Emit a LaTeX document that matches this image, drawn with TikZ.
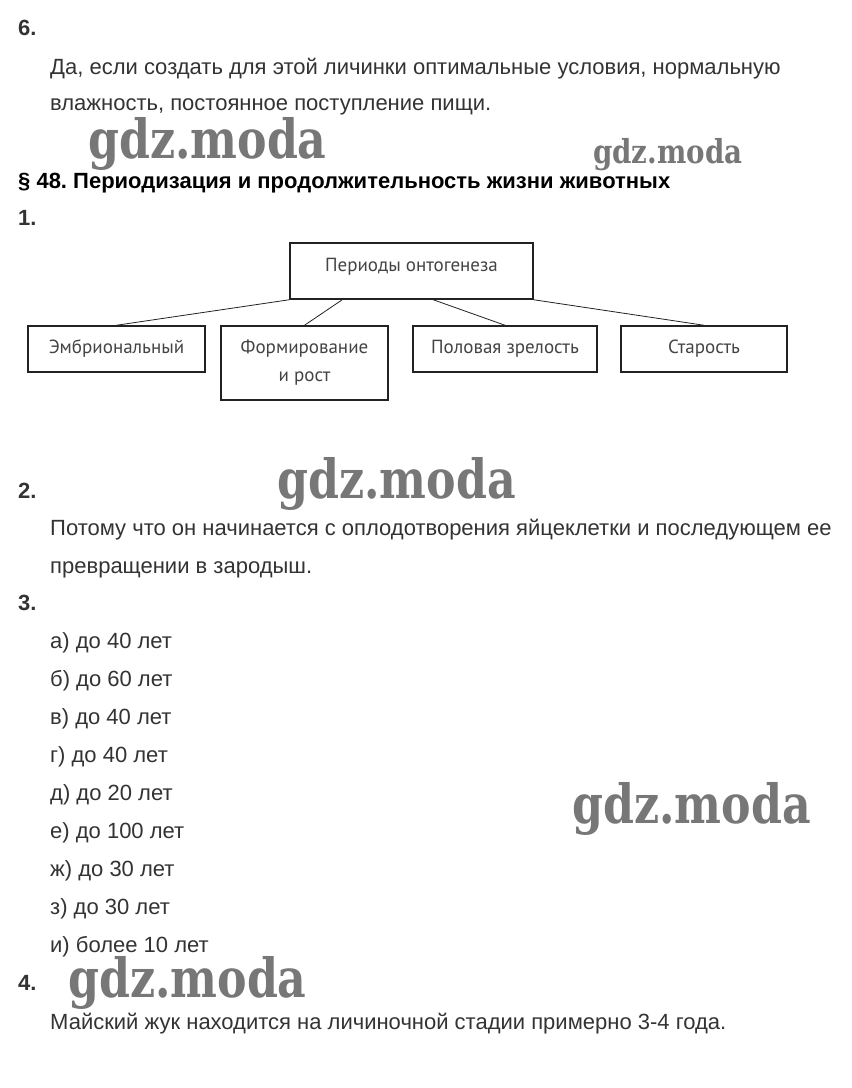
\documentclass[tikz,border=0pt]{standalone}
\usepackage{fontspec}
\usepackage{graphicx}
\setmainfont{Liberation Sans}
\newfontfamily\boxfont{PT Sans}
\newfontfamily\markfont{DejaVu Serif}
\definecolor{inkgray}{HTML}{333333}
\definecolor{boxline}{HTML}{222222}
\definecolor{boxtext}{HTML}{444444}
\definecolor{markgray}{HTML}{777777}
\frenchspacing

\begin{document}
\begin{tikzpicture}[x=1pt,y=-1pt,
    txt/.style={anchor=base west,inner sep=0pt,text=inkgray,
      font=\fontsize{22}{26}\selectfont},
    num/.style={txt,font=\fontsize{22}{26}\selectfont\bfseries},
    box/.style={draw=boxline,line width=1.5pt,inner sep=2pt,text=boxtext,
      align=center,font=\boxfont\fontsize{19}{28}\selectfont},
    link/.style={draw=boxline,line width=0.8pt},
    wm/.style={anchor=base west,inner sep=0pt,text=markgray,
      font=\markfont\bfseries\fontsize{#1}{#1}\selectfont}]
  \useasboundingbox[fill=white] (0,0) rectangle (852,1088);
  % task 6
  \node[num] (n6) at (18,35) {6.};
  \node[txt] (t6a) at (50,74) {Да, если создать для этой личинки оптимальные условия, нормальную};
  \node[txt] (t6b) at (50,110) {влажность, постоянное поступление пищи.};
  % heading
  \node[num,text=black] (head) at (18,188) {§ 48. Периодизация и продолжительность жизни животных};
  \node[num] (n1) at (18,225) {1.};
  % scheme
  \node[box,minimum width=243pt,minimum height=56pt,text height=13pt,text depth=13pt] %
    (periods) at (411.5,271) {Периоды онтогенеза};
  \node[box,minimum width=177pt,minimum height=46pt] (embr) at (116.5,349) {Эмбриональный};
  \node[box,minimum width=167pt,minimum height=74pt] (form) at (304.5,363) {Формирование\\и рост};
  \node[box,minimum width=184pt,minimum height=46pt] (sex) at (505,349) {Половая зрелость};
  \node[box,minimum width=166pt,minimum height=46pt] (old) at (704,349) {Старость};
  \draw[link] (periods.south west) -- (embr.north);
  \draw[link] ([xshift=53pt]periods.south west) -- (form.north);
  \draw[link] ([xshift=144pt]periods.south west) -- (sex.north);
  \draw[link] (periods.south east) -- (old.north);
  % task 2
  \node[num] (n2) at (18,498) {2.};
  \node[txt] (t2a) at (50,535) {Потому что он начинается с оплодотворения яйцеклетки и последующем ее};
  \node[txt] (t2b) at (50,573) {превращении в зародыш.};
  % task 3
  \node[num] (n3) at (18,610) {3.};
  \foreach \lbl/\yrs [count=\i from 0] in {а/до 40 лет,б/до 60 лет,в/до 40 лет,г/до 40 лет,%
      д/до 20 лет,е/до 100 лет,ж/до 30 лет,з/до 30 лет,и/более 10 лет}
    \node[txt] (item\i) at (50,{648+38*\i}) {\lbl) \yrs};
  % task 4
  \node[num] (n4) at (18,990) {4.};
  \node[txt] (t4) at (50,1029) {Майский жук находится на личиночной стадии примерно 3-4 года.};
  % watermarks
  \node[wm=54] (wm1) at (88,158) {\scalebox{0.82}[1]{gdz.moda}};
  \node[wm=33] (wm2) at (593,163) {\scalebox{0.84}[1]{gdz.moda}};
  \node[wm=54] (wm3) at (277,498) {\scalebox{0.82}[1]{gdz.moda}};
  \node[wm=54] (wm4) at (572,823) {\scalebox{0.82}[1]{gdz.moda}};
  \node[wm=54] (wm5) at (68,997) {\scalebox{0.82}[1]{gdz.moda}};
\end{tikzpicture}
\end{document}
